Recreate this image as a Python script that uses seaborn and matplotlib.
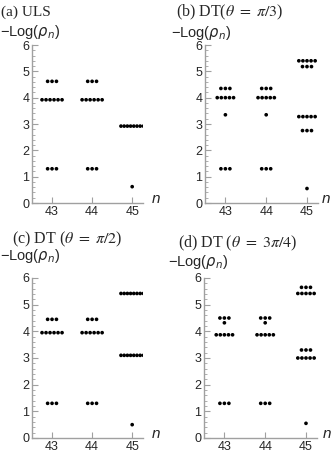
import matplotlib.pyplot as plt
import numpy as np
import pandas as pd
import seaborn as sns

# each level: (n, -Log(rho_n) value, degeneracy = number of dots)
uls_n = [43, 43, 43, 44, 44, 44, 45, 45]
uls_val = [4.62, 3.92, 1.3, 4.62, 3.92, 1.3, 2.92, 0.62]
uls_cnt = [3, 6, 3, 3, 6, 3, 8, 1]

dt3_n = [43, 43, 43, 43, 44, 44, 44, 44, 45, 45, 45, 45, 45]
dt3_val = [4.35, 4.0, 3.35, 1.3, 4.35, 4.0, 3.35, 1.3, 5.4, 5.18, 3.28, 2.75, 0.55]
dt3_cnt = [3, 5, 1, 3, 3, 5, 1, 3, 5, 3, 5, 3, 1]

dt2_n = [43, 43, 43, 44, 44, 44, 45, 45, 45]
dt2_val = [4.45, 3.95, 1.3, 4.45, 3.95, 1.3, 5.42, 3.1, 0.5]
dt2_cnt = [3, 6, 3, 3, 6, 3, 8, 8, 1]

dt34_n = [43, 43, 43, 43, 44, 44, 44, 44, 45, 45, 45, 45, 45]
dt34_val = [4.5, 4.32, 3.87, 1.3, 4.5, 4.32, 3.87, 1.3, 5.65, 5.42, 3.3, 3.0, 0.55]
dt34_cnt = [3, 1, 5, 3, 3, 1, 5, 3, 3, 5, 3, 5, 1]

titles = ["(a) ULS", r"(b) DT($\theta\ =\ \pi/3$)",
          r"(c) DT ($\theta\ =\ \pi/2$)", r"(d) DT ($\theta\ =\ 3\pi/4$)"]
panels = [(uls_n, uls_val, uls_cnt), (dt3_n, dt3_val, dt3_cnt),
          (dt2_n, dt2_val, dt2_cnt), (dt34_n, dt34_val, dt34_cnt)]


def spread(ns, vals, cnts):
    # degenerate levels are drawn as a horizontal row of dots around n
    rows = []
    for n, v, c in zip(ns, vals, cnts):
        gap = 0.11 if c <= 3 else (0.1 if c <= 6 else 0.08)
        for i in range(c):
            rows.append({"n": n + (i - (c - 1) / 2) * gap, "val": v})
    return pd.DataFrame(rows)


sns.set_style("ticks")
plt.rcParams['font.family'] = ['Liberation Sans', 'DejaVu Sans']

W, H = 332, 453
fig = plt.figure(figsize=(W / 100, H / 100), dpi=100)

# axes boxes in pixels: left, top(y=6), right, bottom(y=0)
boxes = [(32, 45, 143, 203), (205, 45, 318, 203),
         (32, 278, 143, 438), (204, 278, 317, 438)]
title_pos = [(1, 12), (176, 12), (12, 239), (178, 243)]
ylab_pos = [(0, 32), (171, 33), (0, 256), (168, 262)]
title_size = [11, 11.5, 11.5, 11.5]
n_x = [45.5, 45.37, 45.5, 45.42]
gray = "#a0a0a0"

for k, ((ns, vals, cnts), box) in enumerate(zip(panels, boxes)):
    l, t, r, b = box
    ax = fig.add_axes([l / W, 1 - b / H, (r - l) / W, (b - t) / H])
    df = spread(ns, vals, cnts)
    sns.scatterplot(data=df, x="n", y="val", ax=ax, color="black", s=7,
                    edgecolor="none", legend=False)
    ax.set_xlim(42.5, 45.27)
    ax.set_ylim(0, 6)
    ax.set_xticks([43, 44, 45])
    ax.set_yticks(range(7))
    ax.set_yticks(np.arange(0, 6.01, 0.2), minor=True)
    ax.set_xlabel("")
    ax.set_ylabel("")
    sns.despine(ax=ax)
    for s in ["left", "bottom"]:
        ax.spines[s].set_color(gray)
        ax.spines[s].set_linewidth(1.0)
    ax.tick_params(axis="both", which="major", direction="in", length=4,
                   color=gray, labelsize=9, pad=2)
    ax.tick_params(axis="y", which="minor", direction="in", length=2, color=gray)
    ax.text(n_x[k], 0.15, "n", fontsize=11, style="italic", va="center",
            ha="left", clip_on=False)
    tx, ty = title_pos[k]
    fig.text(tx / W, 1 - ty / H, titles[k], fontsize=title_size[k],
             family="Liberation Serif", math_fontfamily="stix",
             va="center", ha="left")
    lx, ly = ylab_pos[k]
    fig.text(lx / W, 1 - ly / H, "\u2212Log($\\rho_n$)", fontsize=10.5,
             math_fontfamily="dejavusans", va="center", ha="left")

fig.savefig("out.png", dpi=100)
